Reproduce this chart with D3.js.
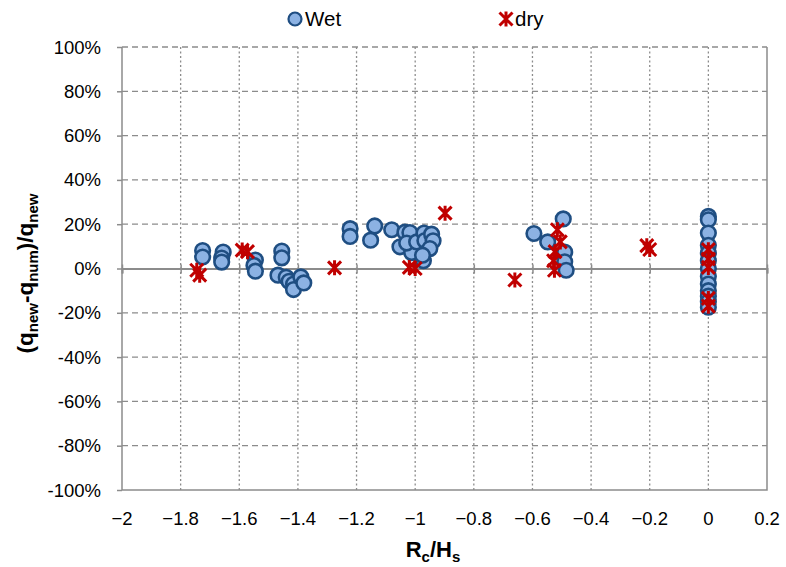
<!DOCTYPE html>
<html>
<head>
<meta charset="utf-8">
<script src="https://cdn.jsdelivr.net/npm/d3@7"></script>
<style>
  html, body { margin: 0; padding: 0; background: #fff; }
  svg { display: block; font-family: "Liberation Sans", Arial, sans-serif; }
</style>
</head>
<body>
<svg id="chart" width="786" height="567"></svg>
<script>
// Relative discharge error vs relative crest freeboard
const wetX = [-1.725, -1.725, -1.655, -1.66, -1.66, -1.545, -1.55, -1.545,
  -1.455, -1.455, -1.468, -1.44, -1.43, -1.415, -1.415, -1.39, -1.38,
  -1.222, -1.222, -1.138, -1.152, -1.08, -1.035, -1.018, -1.052, -1.012, -1.029,
  -0.995, -0.97, -0.967, -0.944, -0.939, -0.95, -0.972, -0.975,
  -0.595, -0.548, -0.495, -0.49, -0.49, -0.485,
  0, 0, 0, 0, 0, 0, 0, 0, 0, 0, 0, 0, 0];
const wetY = [8.1, 5.2, 7.4, 4.7, 2.9, 3.8, 1.4, -1.2,
  7.9, 4.8, -3.0, -4.0, -5.8, -7.0, -9.5, -3.8, -6.5,
  18.0, 14.5, 19.2, 12.8, 17.5, 16.4, 16.2, 9.8, 7.2, 11.5,
  12.0, 16.0, 12.6, 15.5, 12.5, 9.0, 3.5, 6.0,
  15.8, 12.0, 22.4, 7.4, 3.0, -0.8,
  23.5, 22.0, 16.0, 10.5, 7.0, 3.5, 0, -3.5, -7, -10, -12.5, -15, -17.5];

const dryX = [-1.745, -1.735, -1.59, -1.572, -1.275, -1.02, -1.0, -0.898, -0.66,
  -0.515, -0.505, -0.523, -0.528, -0.525, -0.21, -0.2, 0, 0, 0, 0, 0];
const dryY = [-0.8, -3.0, 8.3, 7.6, 0.3, 0.5, 0.0, 25.0, -5.2,
  17.5, 12.0, 7.6, 3.5, -0.8, 10.3, 8.6, 8.5, 4.3, 0.5, -13.5, -17.0];

const xTicks = [-2, -1.8, -1.6, -1.4, -1.2, -1, -0.8, -0.6, -0.4, -0.2, 0, 0.2];
const yTicks = [-100, -80, -60, -40, -20, 0, 20, 40, 60, 80, 100];

const seriesNames = ["Wet", "dry"];

const svg = d3.select("#chart");
const plotL = 122, plotR = 767, plotT = 47, plotB = 490;

const x = d3.scaleLinear().domain([-2, 0.2]).range([plotL, plotR]);
const y = d3.scaleLinear().domain([-100, 100]).range([plotB, plotT]);

const gridColor = "#8c8c8c";
const axisColor = "#8c8c8c";

// horizontal gridlines (dashed)
svg.append("g").selectAll("line").data(yTicks.filter(v => v !== 0 && v !== -100)).join("line")
  .attr("x1", plotL).attr("x2", plotR)
  .attr("y1", d => y(d)).attr("y2", d => y(d))
  .attr("stroke", gridColor).attr("stroke-width", 1.3)
  .attr("stroke-dasharray", "6,4");

// vertical gridlines (dotted)
svg.append("g").selectAll("line").data(xTicks.filter(v => v !== -2 && v !== 0.2)).join("line")
  .attr("x1", d => x(d)).attr("x2", d => x(d))
  .attr("y1", plotT).attr("y2", plotB)
  .attr("stroke", gridColor).attr("stroke-width", 1.3)
  .attr("stroke-dasharray", "2,2.5");

// plot area border: left, right and bottom
svg.append("path")
  .attr("d", `M${plotL},${plotT}V${plotB}H${plotR}V${plotT}`)
  .attr("fill", "none").attr("stroke", axisColor).attr("stroke-width", 1.5);

// horizontal axis at zero with tick marks
const xAxis = d3.axisBottom(x).tickValues(xTicks).tickSize(5).tickFormat("");
const gx = svg.append("g").attr("transform", `translate(0,${y(0)})`).call(xAxis);
gx.select(".domain").attr("stroke", axisColor).attr("stroke-width", 2);
gx.selectAll(".tick line").attr("stroke", axisColor).attr("stroke-width", 1.5).attr("y1", -4);

// vertical axis tick marks
const yAxis = d3.axisLeft(y).tickValues(yTicks).tickSize(5).tickFormat("");
const gy = svg.append("g").attr("transform", `translate(${plotL},0)`).call(yAxis);
gy.select(".domain").remove();
gy.selectAll(".tick line").attr("stroke", axisColor).attr("stroke-width", 1.5);

// tick labels
svg.append("g").selectAll("text").data(xTicks).join("text")
  .attr("x", d => x(d)).attr("y", 525)
  .attr("text-anchor", "middle")
  .attr("font-size", 18.5).attr("fill", "#000")
  .text(d => d3.format("")(d));

svg.append("g").selectAll("text").data(yTicks).join("text")
  .attr("x", 101).attr("y", d => y(d) + 6.5)
  .attr("text-anchor", "end")
  .attr("font-size", 18.5).attr("fill", "#000")
  .text(d => d + "%");

// axis titles
const xt = svg.append("text").attr("x", 433).attr("y", 557)
  .attr("text-anchor", "middle").attr("font-size", 22).attr("font-weight", "bold");
xt.append("tspan").text("R");
xt.append("tspan").attr("font-size", 15).attr("dy", 5).text("c");
xt.append("tspan").attr("dy", -5).text("/H");
xt.append("tspan").attr("font-size", 15).attr("dy", 5).text("s");

const yt = svg.append("text").attr("transform", `translate(33,${(plotT + plotB) / 2 + 5}) rotate(-90)`)
  .attr("text-anchor", "middle").attr("font-size", 22.5).attr("font-weight", "bold");
yt.append("tspan").text("(q");
yt.append("tspan").attr("font-size", 15).attr("dy", 5).text("new");
yt.append("tspan").attr("dy", -5).text("-q");
yt.append("tspan").attr("font-size", 15).attr("dy", 5).text("num");
yt.append("tspan").attr("dy", -5).text(")/q");
yt.append("tspan").attr("font-size", 15).attr("dy", 5).text("new");

// markers
const circleFill = "#8cb2e3", circleStroke = "#1f4e82", starColor = "#c00000";
const R = 7.3, S = 6.5;

function starPath(cx, cy) {
  return `M${cx - S},${cy - S}L${cx + S},${cy + S}M${cx - S},${cy + S}L${cx + S},${cy - S}` +
         `M${cx},${cy - S - 1}V${cy + S + 1}`;
}

const wet = wetX.map((v, i) => ({ x: v, y: wetY[i] }));
const dry = dryX.map((v, i) => ({ x: v, y: dryY[i] }));

svg.append("g").selectAll("circle").data(wet).join("circle")
  .attr("cx", d => x(d.x)).attr("cy", d => y(d.y)).attr("r", R)
  .attr("fill", circleFill).attr("stroke", circleStroke).attr("stroke-width", 2.6);

svg.append("g").selectAll("path").data(dry).join("path")
  .attr("d", d => starPath(x(d.x), y(d.y)))
  .attr("fill", "none").attr("stroke", starColor).attr("stroke-width", 3);

// legend
const lg = svg.append("g");
lg.append("circle").attr("cx", 295).attr("cy", 19).attr("r", 6.5)
  .attr("fill", circleFill).attr("stroke", circleStroke).attr("stroke-width", 2.2);
lg.append("text").attr("x", 305).attr("y", 26).attr("font-size", 20.5).text(seriesNames[0]);
lg.append("path").attr("d", starPath(506, 19)).attr("fill", "none")
  .attr("stroke", starColor).attr("stroke-width", 3);
lg.append("text").attr("x", 515).attr("y", 26).attr("font-size", 20.5).text(seriesNames[1]);
</script>
</body>
</html>
